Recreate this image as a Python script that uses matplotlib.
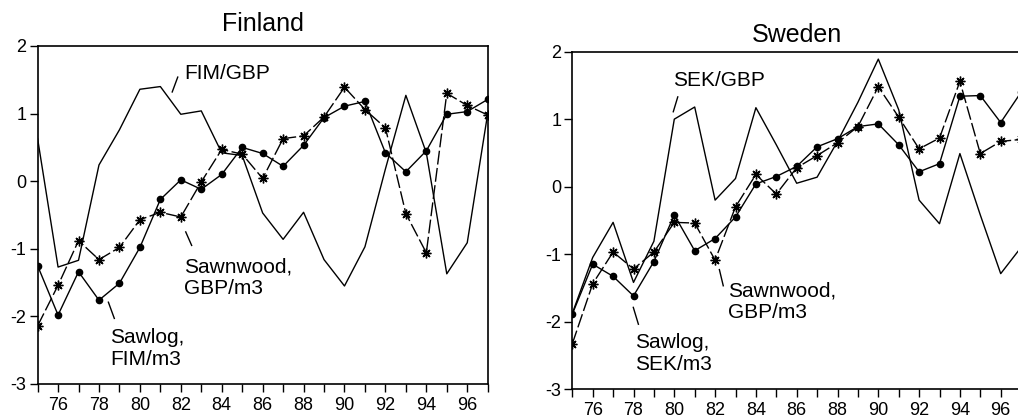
import numpy as np
import matplotlib
matplotlib.use("Agg")
from matplotlib import pyplot as plt

plt.rcParams['font.family'] = ['Liberation Sans', 'DejaVu Sans']
plt.rcParams['axes.unicode_minus'] = False

years = list(range(75, 98))

# Finland
fim_gbp = [0.63, -1.27, -1.17, 0.24, 0.76, 1.36, 1.40, 0.99, 1.04, 0.42, 0.38,
           -0.47, -0.86, -0.46, -1.16, -1.55, -0.97, 0.18, 1.27, 0.42, -1.37, -0.91, 1.00]
fi_sawlog = [-1.25, -1.98, -1.34, -1.76, -1.51, -0.98, -0.27, 0.02, -0.12, 0.10, 0.50,
             0.41, 0.22, 0.53, 0.94, 1.11, 1.18, 0.42, 0.14, 0.45, 0.99, 1.03, 1.21]
fi_sawnwood = [-2.14, -1.54, -0.88, -1.16, -0.98, -0.57, -0.46, -0.53, -0.01, 0.47, 0.40,
               0.04, 0.63, 0.67, 0.95, 1.39, 1.06, 0.79, -0.48, -1.06, 1.30, 1.12, 0.98]

# Sweden
sek_gbp = [-1.88, -1.05, -0.53, -1.42, -0.81, 1.00, 1.18, -0.20, 0.12, 1.17, 0.62,
           0.05, 0.14, 0.67, 1.25, 1.89, 1.14, -0.20, -0.55, 0.49, -0.42, -1.29, -0.90]
se_sawlog = [-1.89, -1.15, -1.33, -1.62, -1.11, -0.42, -0.95, -0.77, -0.45, 0.04, 0.15,
             0.30, 0.59, 0.71, 0.89, 0.93, 0.62, 0.22, 0.34, 1.34, 1.35, 0.95, 1.40]
se_sawnwood = [-2.33, -1.44, -0.97, -1.22, -0.97, -0.53, -0.54, -1.09, -0.30, 0.18, -0.11,
               0.28, 0.46, 0.65, 0.89, 1.48, 1.03, 0.56, 0.72, 1.56, 0.49, 0.67, 0.70]

W, H = 1018, 419
fig = plt.figure(figsize=(W / 100, H / 100), dpi=100)

# second panel runs past the right edge, as in the original
ax1 = fig.add_axes([37.6 / W, (H - 384) / H, 450.1 / W, 338 / H])
ax2 = fig.add_axes([572.3 / W, (H - 389) / H, 448.8 / W, 337.3 / H])

star = (8, 2, 0)


def draw(ax, fx, saw, wood):
    ax.plot(years, fx, color='black', lw=1.0)
    ax.plot(years, saw, color='black', lw=1.0, marker='o', ms=4.5)
    ax.plot(years, wood, color='black', lw=1.0, dashes=(10, 2.5),
            marker=star, ms=7, mew=1.0)
    ax.set_xlim(75, 97)
    ax.set_ylim(-3, 2)
    ax.set_xticks(range(76, 97, 2))
    ax.set_xticks(range(75, 98, 2), minor=True)
    ax.set_yticks(range(-3, 3))
    ax.tick_params(axis='x', which='both', direction='out', length=6, width=1,
                   labelsize=13, pad=3)
    ax.tick_params(axis='y', direction='out', length=6, width=1, labelsize=13, pad=2)
    for s in ax.spines.values():
        s.set_linewidth(1.2)


draw(ax1, fim_gbp, fi_sawlog, fi_sawnwood)
draw(ax2, sek_gbp, se_sawlog, se_sawnwood)

ax1.set_title('Finland', fontsize=18, pad=11)
ax2.set_title('Sweden', fontsize=18, pad=7)

fs = 15
ax1.text(82.16, 1.60, 'FIM/GBP', fontsize=fs, va='center')
ax1.plot([81.58, 81.85], [1.32, 1.54], color='black', lw=1.0)
ax1.text(82.16, -1.43, 'Sawnwood,\nGBP/m3', fontsize=fs, va='center', linespacing=1.2)
ax1.plot([82.24, 82.53], [-0.75, -0.95], color='black', lw=1.0)
ax1.text(78.54, -2.47, 'Sawlog,\nFIM/m3', fontsize=fs, va='center', linespacing=1.2)
ax1.plot([78.46, 78.75], [-1.79, -2.03], color='black', lw=1.0)

ax2.text(79.92, 1.58, 'SEK/GBP', fontsize=fs, va='center')
ax2.plot([79.95, 80.17], [1.11, 1.33], color='black', lw=1.0)
ax2.text(78.07, -2.47, 'Sawlog,\nSEK/m3', fontsize=fs, va='center', linespacing=1.2)
ax2.plot([77.99, 78.24], [-1.79, -2.04], color='black', lw=1.0)
ax2.text(82.65, -1.71, 'Sawnwood,\nGBP/m3', fontsize=fs, va='center', linespacing=1.2)
ax2.plot([82.21, 82.40], [-1.23, -1.47], color='black', lw=1.0)

fig.savefig('out.png', dpi=100)
